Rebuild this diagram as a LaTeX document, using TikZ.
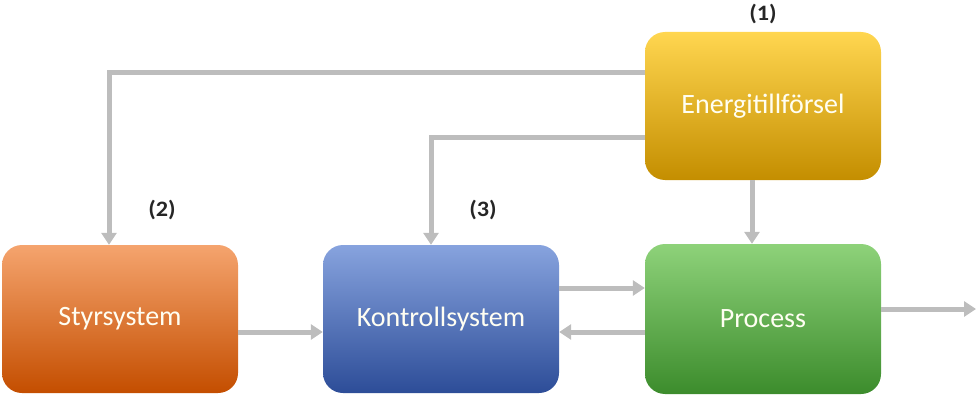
\documentclass[tikz,border=0pt]{standalone}
\usepackage{fontspec}
\setmainfont{Carlito}
\usetikzlibrary{arrows.meta}
\definecolor{arr}{HTML}{BDBDBD}
\newcommand{\widelbl}[1]{\scalebox{1.1}[1]{#1}}
\begin{document}
\begin{tikzpicture}[x=1pt,y=-1pt,
  blk/.style={rounded corners=20pt,minimum width=236pt,minimum height=148pt,inner sep=0pt,
     text=white!95!yellow,font=\fontsize{28}{32}\selectfont},
  conn/.style={draw=arr,line width=5pt,-{Triangle[width=15pt,length=12pt]}},
  lbl/.style={font=\fontsize{22}{26}\selectfont\bfseries,text=black!85}]
\useasboundingbox (0,0) rectangle (978,404);
\node[blk,top color={rgb,255:red,255;green,214;blue,80},middle color={rgb,255:red,255;green,192;blue,0},bottom color={rgb,255:red,196;green,142;blue,0}] (energi) at (763,106) {Energitillförsel};
\node[blk,top color={rgb,255:red,245;green,164;blue,110},middle color={rgb,255:red,237;green,112;blue,32},bottom color={rgb,255:red,196;green,78;blue,0}] (styr) at (120,319) {Styrsystem};
\node[blk,top color={rgb,255:red,135;green,163;blue,222},middle color={rgb,255:red,71;green,112;blue,204},bottom color={rgb,255:red,45;green,77;blue,152}] (kontroll) at (441,319) {Kontrollsystem};
\node[blk,minimum height=150pt,top color={rgb,255:red,142;green,210;blue,122},middle color={rgb,255:red,93;green,185;blue,68},bottom color={rgb,255:red,60;green,140;blue,44}] (process) at (763,319) {Process};
\coordinate (out) at (976,309);
\node[lbl] (l1) at (763,14) {\widelbl{(1)}};
\node[lbl] (l2) at (162,210) {\widelbl{(2)}};
\node[lbl] (l3) at (483,210) {\widelbl{(3)}};
\draw[conn] (energi.west |- 0,73) -| (styr.north -| 109,0);
\draw[conn] (energi.west |- 0,137) -| (kontroll.north -| 431,0);
\draw[conn] (energi.south -| 752,0) -- (process.north -| 752,0);
\draw[conn] (styr.east |- 0,332) -- (kontroll.west |- 0,332);
\draw[conn] (kontroll.east |- 0,288) -- (process.west |- 0,288);
\draw[conn] (process.west |- 0,332) -- (kontroll.east |- 0,332);
\draw[conn] (process.east |- out) -- (out);
\end{tikzpicture}
\end{document}
